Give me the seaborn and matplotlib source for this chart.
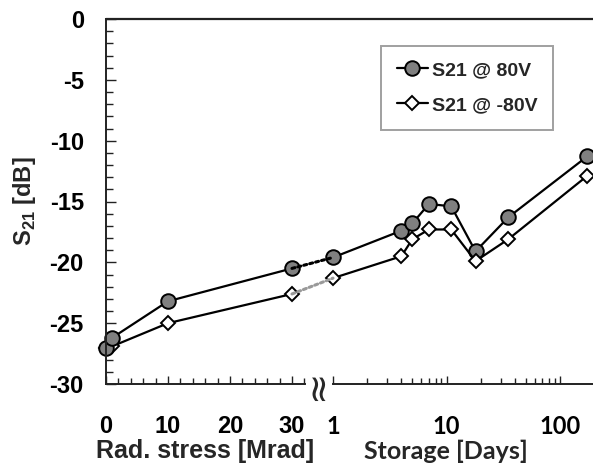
import numpy as np
import seaborn as sb
import matplotlib.pyplot as plt
from matplotlib.lines import Line2D
from matplotlib.patches import ConnectionPatch
from matplotlib.ticker import MultipleLocator, LogLocator, NullFormatter, FixedLocator, FixedFormatter

# --------------- data --------------- #
rad_mrad = [0, 1, 10, 30]
rad_s21_pos = [-27.0, -26.2, -23.2, -20.5]
rad_s21_neg = [-27.0, -26.9, -25.0, -22.6]

storage_days = [1, 4, 5, 7, 11, 18, 35, 173]
storage_s21_pos = [-19.6, -17.4, -16.8, -15.2, -15.4, -19.1, -16.3, -11.3]
storage_s21_neg = [-21.3, -19.5, -18.1, -17.3, -17.3, -19.9, -18.1, -12.9]

labels = ["S21 @ 80V", "S21 @ -80V"]

sb.set_theme(style="white")
plt.rcParams['font.family'] = ['Liberation Sans', 'DejaVu Sans']
plt.rcParams['font.weight'] = 'bold'
plt.rcParams['axes.unicode_minus'] = False
plt.rcParams['mathtext.fontset'] = 'custom'
plt.rcParams['mathtext.rm'] = 'Liberation Sans:bold'
plt.rcParams['mathtext.bf'] = 'Liberation Sans:bold'

W, H = 593, 468
fig = plt.figure(figsize=(W / 100, H / 100), dpi=100)

# pixel boxes of the two panels
ax1 = fig.add_axes([106 / W, 1 - 384 / H, 199 / W, 365 / H])
ax2 = fig.add_axes([333 / W, 1 - 384 / H, (W - 333) / W, 365 / H], sharey=ax1)

pos_style = dict(color='black', lw=1.6, marker='o', markersize=10.5, clip_on=False,
                 markerfacecolor='#808080', markeredgecolor='black', markeredgewidth=1.4)
neg_style = dict(color='black', lw=1.6, marker='D', markersize=7.6, clip_on=False,
                 markerfacecolor='white', markeredgecolor='black', markeredgewidth=1.4)

# dotted links between the two panels (drawn first so markers sit on top)
for ys, col in [((rad_s21_pos[-1], storage_s21_pos[0]), 'black'),
                ((rad_s21_neg[-1], storage_s21_neg[0]), '#999999')]:
    con = ConnectionPatch(xyA=(rad_mrad[-1], ys[0]), coordsA=ax1.transData,
                          xyB=(storage_days[0], ys[1]), coordsB=ax2.transData,
                          linestyle=(0, (1, 1)), color=col, lw=2.2, zorder=1)
    fig.add_artist(con)

sb.lineplot(x=rad_mrad, y=rad_s21_neg, ax=ax1, sort=False, **neg_style)
sb.lineplot(x=rad_mrad, y=rad_s21_pos, ax=ax1, sort=False, **pos_style)
sb.lineplot(x=storage_days, y=storage_s21_pos, ax=ax2, sort=False, label=labels[0], **pos_style)
sb.lineplot(x=storage_days, y=storage_s21_neg, ax=ax2, sort=False, label=labels[1], **neg_style)

# left panel
ax1.set_xlim(0, 32.1)
ax1.set_ylim(-30, 0)
ax1.xaxis.set_major_locator(FixedLocator([0, 10, 20, 30]))
ax1.xaxis.set_minor_locator(MultipleLocator(2))
ax1.yaxis.set_major_locator(MultipleLocator(5))
ax1.yaxis.set_minor_locator(MultipleLocator(1))
ax1.tick_params(axis='both', which='both', direction='in', colors='#222222',
                labelcolor='black', width=1, left=True, bottom=True)
ax1.tick_params(axis='y', which='major', length=7, pad=16, labelsize=17)
ax1.tick_params(axis='y', which='minor', length=5)
ax1.tick_params(axis='x', which='major', length=6, pad=22, labelsize=17)
ax1.tick_params(axis='x', which='minor', length=4)
ax1.spines['right'].set_visible(False)
ax1.spines['top'].set_visible(False)
for s in ['left', 'bottom']:
    ax1.spines[s].set_color('#222222')
    ax1.spines[s].set_linewidth(1.4)
ax1.set_xlabel("Rad. stress [Mrad]", fontsize=18, fontweight='bold')
ax1.set_ylabel(r"S$_{21}$ [dB]", fontsize=17, fontweight='bold', labelpad=8)
ax1.xaxis.set_label_coords(0.5, -0.152)

# right panel (log scale storage days)
ax2.set_xscale('log')
ax2.set_xlim(1, 195)
ax2.xaxis.set_major_locator(FixedLocator([1, 10, 100]))
ax2.xaxis.set_major_formatter(FixedFormatter(['1', '10', '100']))
ax2.xaxis.set_minor_locator(LogLocator(base=10, subs=np.arange(2, 10)))
ax2.xaxis.set_minor_formatter(NullFormatter())
ax2.tick_params(axis='x', which='both', direction='in', colors='#222222',
                labelcolor='black', width=1, bottom=True)
ax2.tick_params(axis='x', which='major', length=6, pad=22, labelsize=17)
ax2.tick_params(axis='x', which='minor', length=4)
ax2.tick_params(axis='y', left=False, labelleft=False)
for lab in ax2.get_xticklabels():
    lab.set_fontfamily('Lato')
ax2.spines['left'].set_visible(False)
ax2.spines['right'].set_visible(False)
ax2.spines['top'].set_visible(False)
ax2.spines['bottom'].set_color('#222222')
ax2.spines['bottom'].set_linewidth(1.4)
ax2.set_xlabel("Storage [Days]", fontsize=18, fontweight='bold', family='Lato')
ax2.xaxis.set_label_coords(0.435, -0.152)
ax2.set_ylabel("")

# continuous top border across both panels
fig.add_artist(Line2D([106 / W, 1.0], [1 - 19 / H, 1 - 19 / H], color='#222222', lw=1.6))

# axis break mark
fig.text(318 / W, 1 - 385 / H, "≈", rotation=90, ha='center', va='center',
         fontsize=27, fontweight='normal', family='DejaVu Sans')

leg = ax2.legend(loc='upper left', bbox_to_anchor=(0.185, 0.926), borderaxespad=0,
                 frameon=True, fancybox=False, edgecolor='#888888', handlelength=1.6,
                 handletextpad=0.2, labelspacing=0.9, borderpad=0.8,
                 prop={'size': 14, 'weight': 'bold'})
leg.get_frame().set_linewidth(1.4)

fig.savefig("out.png", dpi=100)
